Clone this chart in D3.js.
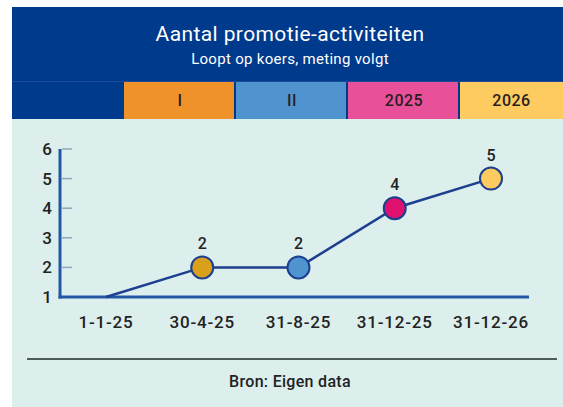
<!DOCTYPE html>
<html><head><meta charset="utf-8">
<script src="https://cdn.jsdelivr.net/npm/d3@7"></script>
<style>
html,body{margin:0;padding:0;background:#fff;}
svg{display:block;font-family:Roboto,"Open Sans",sans-serif;}
</style></head>
<body>
<svg id="c" width="563" height="407"></svg>
<script>
const title = "Aantal promotie-activiteiten";
const subtitle = "Loopt op koers, meting volgt";
const source = "Bron: Eigen data";
const dates = ["1-1-25", "30-4-25", "31-8-25", "31-12-25", "31-12-26"];
const values = [1, 2, 2, 4, 5];
const pointColors = [null, "#d9a01c", "#4f94cf", "#e0106e", "#fdcb60"];
const bandLabels = ["", "I", "II", "2025", "2026"];
const bandColors = ["#003a8c", "#f0922a", "#4f94cf", "#e8509a", "#fdcb60"];
const yTicks = [1, 2, 3, 4, 5, 6];

(function () {
const svg = d3.select("#c");
const W = 563, H = 407;
const panelX = 12, panelY = 7;

svg.append("rect").attr("x", panelX).attr("y", panelY).attr("width", W - panelX).attr("height", H - panelY).attr("fill", "#dcefed");
svg.append("rect").attr("x", panelX).attr("y", panelY).attr("width", W - panelX).attr("height", 112).attr("fill", "#003a8c");
svg.append("text").attr("x", 290).attr("y", 41).attr("text-anchor", "middle").attr("fill", "#fff")
  .attr("font-size", 21).attr("font-weight", 400).attr("letter-spacing", 0.4).text(title);
svg.append("text").attr("x", 290).attr("y", 64).attr("text-anchor", "middle").attr("fill", "#fff")
  .attr("font-size", 15).attr("font-weight", 400).attr("letter-spacing", 0.3).text(subtitle);
svg.append("line").attr("x1", panelX).attr("x2", W).attr("y1", 81.5).attr("y2", 81.5).attr("stroke", "#1d4a98").attr("stroke-width", 1);

const bandEdges = [12, 124, 236, 348, 460, 563];
const bands = svg.append("g");
bandLabels.forEach((lab, i) => {
  const x0 = bandEdges[i], x1 = bandEdges[i + 1] - (i < bandLabels.length - 1 ? 2 : 0);
  bands.append("rect").attr("x", x0).attr("y", 82).attr("width", x1 - x0).attr("height", 37).attr("fill", bandColors[i]);
  if (lab) bands.append("text").attr("x", (bandEdges[i] + bandEdges[i + 1]) / 2).attr("y", 106)
    .attr("text-anchor", "middle").attr("fill", "#2a1e1e").attr("font-size", 16).attr("font-weight", 500).attr("letter-spacing", 0.5).text(lab);
});

const x = d3.scalePoint().domain(dates).range([106, 491]);
const y = d3.scaleLinear().domain([1, 6]).range([297, 149]);

const g = svg.append("g");
g.selectAll(".tk").data(yTicks.filter(d => d > 1)).join("line")
  .attr("x1", 62).attr("x2", 72).attr("y1", d => y(d)).attr("y2", d => y(d))
  .attr("stroke", "#8fa7b8").attr("stroke-width", 1.5);
g.selectAll(".yl").data(yTicks).join("text")
  .attr("x", 52).attr("y", d => y(d) + 6).attr("text-anchor", "end")
  .attr("font-size", 17).attr("font-weight", 500).attr("fill", "#222").text(d => d);

g.append("line").attr("x1", 60).attr("x2", 60).attr("y1", y(6)).attr("y2", y(1) + 1.5).attr("stroke", "#2456a6").attr("stroke-width", 3);
g.append("line").attr("x1", 58.5).attr("x2", 529).attr("y1", y(1)).attr("y2", y(1)).attr("stroke", "#2456a6").attr("stroke-width", 3);

g.selectAll(".xl").data(dates).join("text")
  .attr("x", d => x(d)).attr("y", 328).attr("text-anchor", "middle")
  .attr("font-size", 17).attr("font-weight", 500).attr("letter-spacing", 0.8).attr("fill", "#222").text(d => d);

const data = dates.map((d, i) => ({ d, v: values[i], c: pointColors[i] }));
g.append("path").datum(data)
  .attr("d", d3.line().x(p => x(p.d)).y(p => y(p.v)))
  .attr("fill", "none").attr("stroke", "#1c3f8f").attr("stroke-width", 2.5);

const pts = data.filter(p => p.c);
g.selectAll(".pt").data(pts).join("circle")
  .attr("cx", p => x(p.d)).attr("cy", p => y(p.v)).attr("r", 11)
  .attr("fill", p => p.c).attr("stroke", "#1c3f8f").attr("stroke-width", 2);
g.selectAll(".vl").data(pts).join("text")
  .attr("x", p => x(p.d)).attr("y", p => y(p.v) - 18).attr("text-anchor", "middle")
  .attr("font-size", 16).attr("font-weight", 500).attr("fill", "#222").text(p => p.v);

svg.append("line").attr("x1", 27).attr("x2", 557).attr("y1", 359).attr("y2", 359).attr("stroke", "#1e2a2a").attr("stroke-width", 1.5);
svg.append("text").attr("x", 290).attr("y", 387).attr("text-anchor", "middle")
  .attr("font-size", 16).attr("font-weight", 500).attr("letter-spacing", 0.3).attr("fill", "#222").text(source);
})();
</script>
</body></html>
